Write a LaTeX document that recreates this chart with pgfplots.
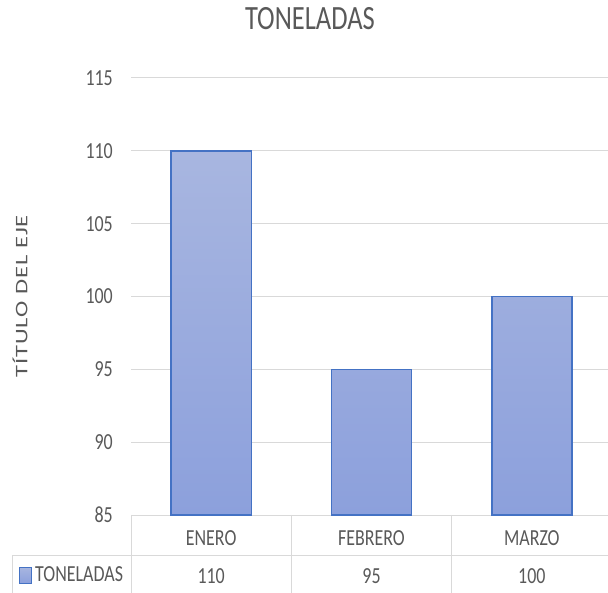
\documentclass[border=0pt]{standalone}
\usepackage{fontspec}
\usepackage{graphicx}
\usepackage{pgfplots}
\usepackage{pgfplotstable}
\pgfplotsset{compat=1.18}
\newfontfamily\cf{Carlito}[FakeStretch=0.78]
\newfontfamily\cfn{Carlito}
\definecolor{textgray}{HTML}{595959}
\definecolor{gridgray}{HTML}{D9D9D9}
\definecolor{bartop}{HTML}{A8B6E0}
\definecolor{barbot}{HTML}{8CA0DC}
\definecolor{edge}{HTML}{4472C4}
\pgfplotstableread{
x y
0 110
1 95
2 100
}\datatable
\begin{document}
\begin{tikzpicture}
\useasboundingbox (0,0) rectangle (608bp,593bp);
\begin{axis}[
  at={(131bp,78bp)}, anchor=south west,
  scale only axis, width=481bp, height=437bp,
  clip=false,
  xmin=-0.5, xmax=2.5, ymin=85, ymax=115,
  ytick={85,90,95,100,105,110,115},
  xtick={0,1,2}, xticklabels={ENERO,FEBRERO,MARZO},
  axis line style={draw=none},
  major tick length=0pt,
  ymajorgrids, grid style={gridgray, line width=1bp},
  /pgf/number format/assume math mode=true,
  yticklabel style={font=\cf\fontsize{23bp}{27bp}\selectfont, text=textgray, anchor=east, inner sep=0pt, xshift=-18bp},
  xticklabel style={font=\cf\fontsize{23bp}{27bp}\selectfont, text=textgray, anchor=base, inner sep=0pt, yshift=-30bp},
  title={TONELADAS},
  title style={at={(axis description cs:0.372,1)}, anchor=base, yshift=43bp, font=\cf\fontsize{34bp}{40bp}\selectfont, text=textgray, inner sep=0pt},
  ylabel={\scalebox{1}[0.72]{\addfontfeature{LetterSpace=4}TÍTULO DEL EJE}},
  ylabel style={at={(axis description cs:-0.2308,0.5)}, anchor=center, rotate=0, font=\cfn\fontsize{24.5bp}{30bp}\selectfont, text=textgray, inner sep=0pt},
  legend style={draw=none, fill=none, inner sep=0pt, at={(axis description cs:-0.2328,0)}, anchor=west, yshift=-60bp, font=\cf\fontsize{23bp}{27bp}\selectfont, text=textgray, nodes={inner sep=0pt}, /tikz/every odd column/.style={column sep=3bp}},
  legend image code/.code={\draw[edge, line width=1bp, top color=bartop, bottom color=barbot] (0bp,-8bp) rectangle (12bp,8bp);},
]
\addplot[ybar, bar width=0.5, draw=edge, line width=1.5bp, top color=bartop, bottom color=barbot] table[x=x, y=y] {\datatable};
\addlegendentry{TONELADAS}
\addplot[draw=none, mark=none, forget plot, nodes near coords, point meta=explicit,
  every node near coord/.append style={anchor=base, inner sep=0pt, yshift=-68bp, font=\cf\fontsize{23bp}{27bp}\selectfont, text=textgray}]
  table[x=x, y expr=85, meta=y] {\datatable};
\end{axis}
\begin{scope}[gridgray, line width=1bp]
\draw (12bp,37bp) -- (608bp,37bp);
\draw (12bp,37bp) -- (12bp,0bp);
\draw (131bp,78bp) -- (131bp,0bp);
\draw (291.3bp,78bp) -- (291.3bp,0bp);
\draw (451.7bp,78bp) -- (451.7bp,0bp);
\end{scope}
\end{tikzpicture}
\end{document}
